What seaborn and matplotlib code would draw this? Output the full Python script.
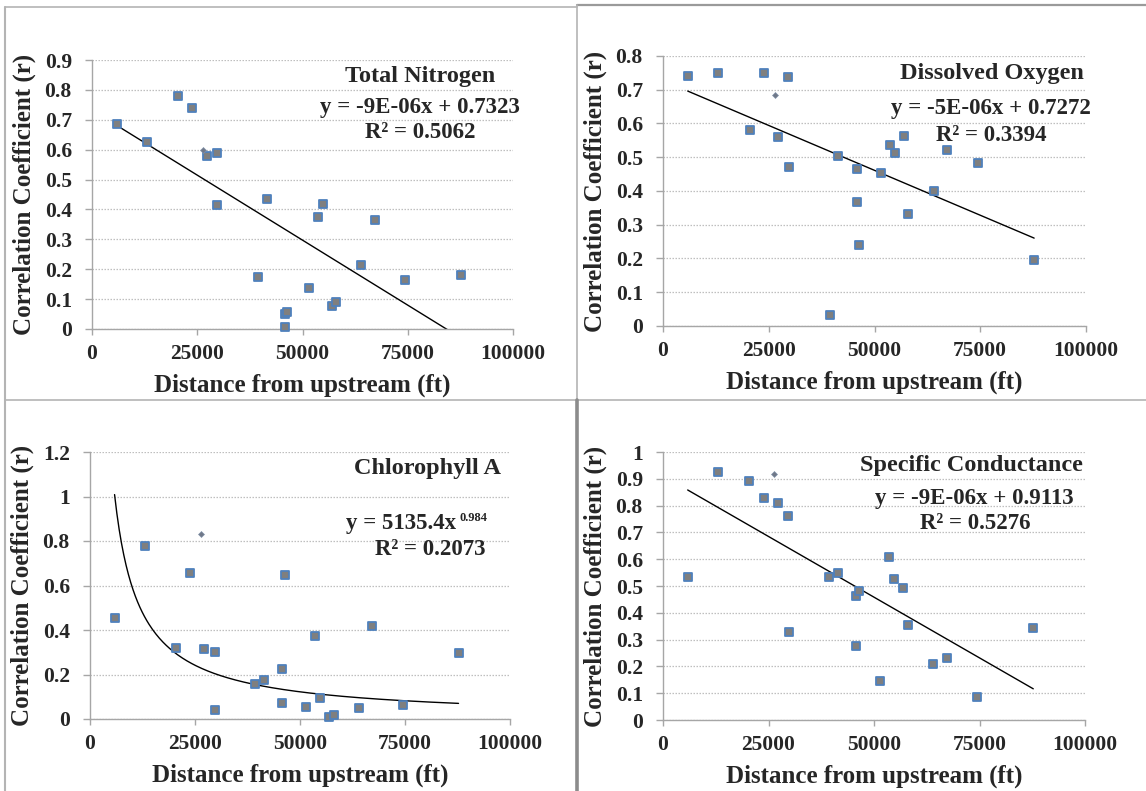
import numpy as np
import pandas as pd
import matplotlib
matplotlib.use("Agg")
import matplotlib.pyplot as plt
from matplotlib.lines import Line2D
import seaborn as sns

# ---------------- data ----------------
distance = [5850, 13100, 20450, 23850, 27200, 29650, 29800, 39400, 41470, 45800,
            45800, 46330, 51500, 53670, 54840, 56900, 58000, 63950, 67200, 74430, 87740]

tn_r = [0.685, 0.626, 0.780, 0.740, 0.578, 0.590, 0.415, 0.174, 0.435, 0.049,
        0.008, 0.058, 0.136, 0.374, 0.418, 0.077, 0.091, 0.214, 0.364, 0.165, 0.180]
do_r = [0.741, 0.751, 0.580, 0.751, 0.560, 0.737, 0.472, 0.033, 0.505, 0.465,
        0.367, 0.240, 0.453, 0.535, 0.512, 0.562, 0.331, 0.400, 0.522, 0.482, 0.197]
chl_r = [0.452, 0.777, 0.319, 0.655, 0.314, 0.299, 0.039, 0.159, 0.174, 0.223,
         0.070, 0.646, 0.052, 0.374, 0.093, 0.0075, 0.019, 0.048, 0.420, 0.061, 0.295]
sc_r = [0.535, 0.925, 0.893, 0.830, 0.810, 0.763, 0.330, 0.535, 0.548, 0.462,
        0.277, 0.480, 0.145, 0.609, 0.525, 0.493, 0.355, 0.210, 0.231, 0.084, 0.344]

# small diamond point (second series)
extra_distance = [26400]
extra_r = {"tn": [0.598], "do": [0.685], "chl": [0.833], "sc": [0.919]}

titles = {"tn": "Total Nitrogen", "do": "Dissolved Oxygen",
          "chl": "Chlorophyll A", "sc": "Specific Conductance"}
equations = {"tn": "y = -9E-06x + 0.7323", "do": "y = -5E-06x + 0.7272",
             "chl": "y = 5135.4x", "sc": "y = -9E-06x + 0.9113"}
chl_exponent_label = "0.984"
r2_labels = {"tn": "R² = 0.5062", "do": "R² = 0.3394",
             "chl": "R² = 0.2073", "sc": "R² = 0.5276"}

# trend coefficients (linear: slope, intercept ; power: a, b)
linear_fits = {"tn": (-8.70e-6, 0.7323), "do": (-5.32e-6, 0.7272), "sc": (-9.06e-6, 0.9113)}
power_fit = {"chl": (5135.4, -0.984)}

y_ticks = {
    "tn": [0, 0.1, 0.2, 0.3, 0.4, 0.5, 0.6, 0.7, 0.8, 0.9],
    "do": [0, 0.1, 0.2, 0.3, 0.4, 0.5, 0.6, 0.7, 0.8],
    "chl": [0, 0.2, 0.4, 0.6, 0.8, 1.0, 1.2],
    "sc": [0, 0.1, 0.2, 0.3, 0.4, 0.5, 0.6, 0.7, 0.8, 0.9, 1.0],
}
y_ticklabels = {
    "tn": ["0", "0.1", "0.2", "0.3", "0.4", "0.5", "0.6", "0.7", "0.8", "0.9"],
    "do": ["0", "0.1", "0.2", "0.3", "0.4", "0.5", "0.6", "0.7", "0.8"],
    "chl": ["0", "0.2", "0.4", "0.6", "0.8", "1", "1.2"],
    "sc": ["0", "0.1", "0.2", "0.3", "0.4", "0.5", "0.6", "0.7", "0.8", "0.9", "1"],
}
x_ticks = [0, 25000, 50000, 75000, 100000]
x_ticklabels = ["0", "25000", "50000", "75000", "100000"]

x_label = "Distance from upstream (ft)"
y_label = "Correlation Coefficient (r)"

# ---------------- style ----------------
sns.set_style("white")
plt.rcParams["font.family"] = ["Liberation Serif", "DejaVu Serif"]
plt.rcParams["font.weight"] = "bold"

W, H = 1146, 791
fig = plt.figure(figsize=(W / 100, H / 100), dpi=100)
fig.patch.set_facecolor("white")


def px_axes(left, right, top, bottom):
    return [left / W, 1 - bottom / H, (right - left) / W, (bottom - top) / H]


layout = {
    "tn": px_axes(92, 513, 60, 329),
    "do": px_axes(663, 1086, 56, 326),
    "chl": px_axes(90, 510, 452, 719),
    "sc": px_axes(663, 1085, 452, 720),
}
text_pos = {
    # (title x,y), (eq x,y), (r2 x,y)
    "tn": ((0.78, 0.937), (0.78, 0.822), (0.78, 0.729)),
    "do": ((0.778, 0.937), (0.776, 0.806), (0.777, 0.707)),
    "chl": ((0.803, 0.940), (0.872, 0.732), (0.811, 0.636)),
    "sc": ((0.730, 0.948), (0.738, 0.826), (0.740, 0.733)),
}
series = {"tn": tn_r, "do": do_r, "chl": chl_r, "sc": sc_r}

SPINE = "#a6a6a6"
for key in ["tn", "do", "chl", "sc"]:
    ax = fig.add_axes(layout[key])
    ax.set_facecolor("white")
    df = pd.DataFrame({"distance": distance, "r": series[key]})
    ymax = y_ticks[key][-1]
    ax.set_xlim(0, 100000)
    ax.set_ylim(0, ymax)

    # gridlines
    ax.set_yticks(y_ticks[key])
    ax.grid(axis="y", linestyle=(0, (1.2, 1.2)), color="#bfbfbf", linewidth=0.9)
    ax.grid(axis="x", visible=False)
    ax.set_axisbelow(True)

    # trend line
    xs = np.linspace(min(distance), max(distance), 300)
    if key in linear_fits:
        m, b = linear_fits[key]
        ys = m * xs + b
    else:
        a, p = power_fit[key]
        ys = a * xs ** p
    tdf = pd.DataFrame({"x": xs, "y": ys})
    sns.lineplot(data=tdf, x="x", y="y", ax=ax, color="black", linewidth=1.0,
                 sort=False, zorder=2)

    # data points
    sns.scatterplot(data=df, x="distance", y="r", ax=ax, marker="s", s=34,
                    color="#7f7f7f", edgecolor="#4f81bd", linewidth=1.3,
                    zorder=3, clip_on=False)
    sns.scatterplot(x=extra_distance, y=extra_r[key], ax=ax, marker="D", s=9,
                    color="#707888", edgecolor="#8090a8", linewidth=0.5, zorder=3)

    ax.set_yticklabels(y_ticklabels[key])
    ax.set_xticks(x_ticks)
    ax.set_xticklabels(x_ticklabels)
    for s in ["top", "right"]:
        ax.spines[s].set_visible(False)
    for s in ["left", "bottom"]:
        ax.spines[s].set_color(SPINE)
        ax.spines[s].set_linewidth(1.0)
    ax.tick_params(axis="y", length=5, width=1, color=SPINE, pad=9.5,
                   labelsize=15.5, direction="out", left=True)
    ax.tick_params(axis="x", length=4.5, width=1, color=SPINE, pad=6,
                   labelsize=15.5, direction="out", bottom=True)
    for lab in ax.get_xticklabels() + ax.get_yticklabels():
        lab.set_fontweight("bold")

    ax.set_xlabel(x_label, fontsize=18, fontweight="bold", labelpad=7)
    ax.set_ylabel(y_label, fontsize=18, fontweight="bold", labelpad=6)

    (tx, ty), (ex, ey), (rx, ry) = text_pos[key]
    ax.text(tx, ty, titles[key], transform=ax.transAxes, ha="center", va="center",
            fontsize=17.5, fontweight="bold")
    if key == "chl":
        ax.text(ex, ey, equations[key], transform=ax.transAxes, ha="right",
                va="center", fontsize=16.5, fontweight="bold")
        ax.text(ex + 0.008, ey + 0.02, chl_exponent_label, transform=ax.transAxes,
                ha="left", va="center", fontsize=9, fontweight="bold")
    else:
        ax.text(ex, ey, equations[key], transform=ax.transAxes, ha="center",
                va="center", fontsize=16.5, fontweight="bold")
    ax.text(rx, ry, r2_labels[key], transform=ax.transAxes, ha="center", va="center",
            fontsize=16.5, fontweight="bold")


# ---------------- panel borders ----------------
def fline(x0, y0, x1, y1, color, lw):
    fig.add_artist(Line2D([x0 / W, x1 / W], [1 - y0 / H, 1 - y1 / H],
                          transform=fig.transFigure, color=color, linewidth=lw))


LIGHT = "#b4b4b4"
fline(5, 7, 577, 7, LIGHT, 1.2)        # TL top
fline(5, 7, 5, 791, LIGHT, 1.5)        # left edge (TL + BL)
fline(5, 400, 577, 400, LIGHT, 1.2)    # TL bottom / BL top
fline(577, 4.5, 1146, 4.5, "#9a9a9a", 1.6)  # TR top
fline(577, 4.5, 577, 400, LIGHT, 1.2)  # TL/TR separator
fline(578, 399.5, 1146, 399.5, LIGHT, 1.2)  # TR bottom
fline(576.5, 400, 576.5, 791, "#8c8c8c", 2.6)  # BL/BR separator

fig.savefig("out.png", dpi=100, facecolor="white")
